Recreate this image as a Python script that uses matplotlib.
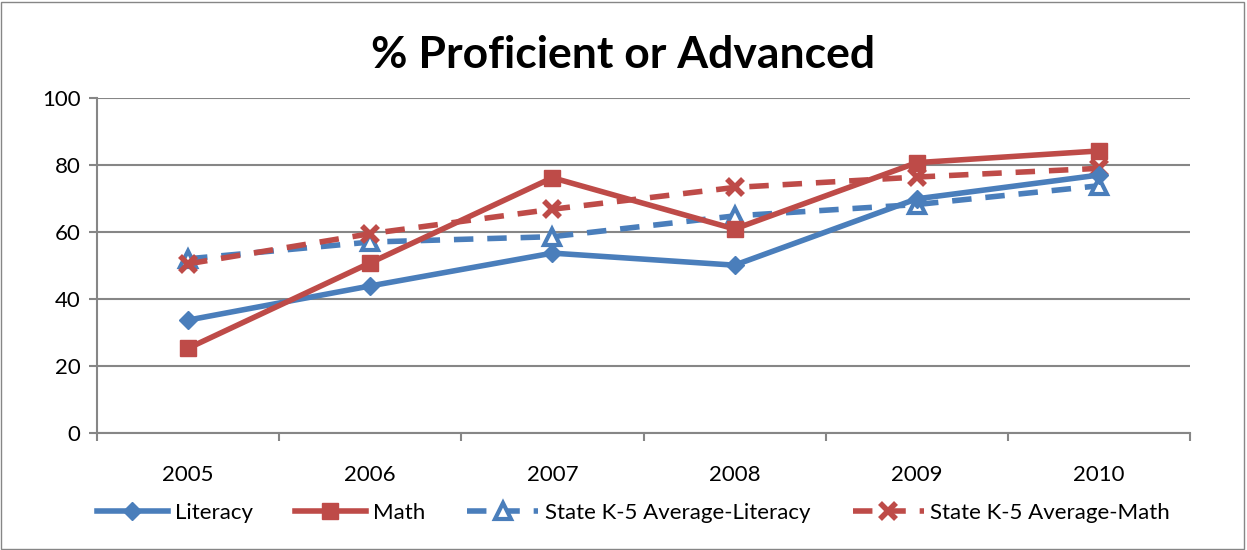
import matplotlib
matplotlib.use("Agg")
import matplotlib.pyplot as plt
from matplotlib.patches import Rectangle

plt.rcParams['font.family'] = ['Lato', 'DejaVu Sans']

years = ["2005", "2006", "2007", "2008", "2009", "2010"]
literacy = [33.7, 43.9, 53.7, 50.1, 69.9, 77.0]
math_ = [25.3, 50.8, 76.2, 60.9, 80.7, 84.2]
state_literacy = [52.0, 57.0, 58.6, 64.8, 68.2, 73.8]
state_math = [50.5, 59.5, 66.8, 73.3, 76.4, 79.0]

blue = "#4a7ebb"
red = "#be4b48"

W, H = 1247, 550
fig = plt.figure(figsize=(W / 100, H / 100), dpi=100)
ax = fig.add_axes([97 / W, (H - 433) / H, (1190 - 97) / W, (433 - 98) / H])

x = list(range(len(years)))
ax.plot(x, literacy, color=blue, lw=4, marker="D", ms=9, label="Literacy", zorder=4)
ax.plot(x, math_, color=red, lw=4, marker="s", ms=12, label="Math", zorder=4)
ax.plot(x, state_literacy, color=blue, lw=4, ls=(0, (3.5, 2.5)), marker="^", ms=12,
        mfc="white", mew=3, label="State K-5 Average-Literacy", zorder=3)
ax.plot(x, state_math, color=red, lw=4, ls=(0, (3.5, 2.5)), marker="x", ms=11,
        mew=4, label="State K-5 Average-Math", zorder=3)

ax.set_xlim(-0.5, len(years) - 0.5)
ax.set_ylim(0, 100)
ax.set_yticks(range(0, 101, 20))
ax.set_xticks(x)
ax.set_xticklabels(years)
ax.set_xticks([i - 0.5 for i in range(len(years) + 1)], minor=True)
ax.tick_params(axis="x", which="major", length=0, pad=23, labelsize=16)
ax.tick_params(axis="x", which="minor", length=6, color="#868686", width=1.5)
ax.tick_params(axis="y", length=6, color="#868686", width=1.5, labelsize=16, pad=6)
ax.yaxis.grid(True, color="#868686", lw=1.5)
ax.set_axisbelow(True)
for s in ["top", "right"]:
    ax.spines[s].set_visible(False)
ax.spines["left"].set_color("#868686")
ax.spines["bottom"].set_color("#868686")
ax.spines["left"].set_linewidth(1.5)
ax.spines["bottom"].set_linewidth(1.5)

fig.text(0.5, (H - 55) / H, "% Proficient or Advanced", ha="center", va="center",
         fontsize=32, fontweight="bold")

fig.legend(loc="center", bbox_to_anchor=(0.5 + 10 / W, (H - 513) / H), ncol=4, frameon=False,
           fontsize=16, handlelength=3.2, columnspacing=1.9, handletextpad=0.3)

fig.patches.append(Rectangle((1 / W, 1 / H), (W - 4) / W, (H - 3) / H,
                             transform=fig.transFigure, fill=False,
                             edgecolor="#868686", lw=1))

fig.savefig("out.png", dpi=100)
